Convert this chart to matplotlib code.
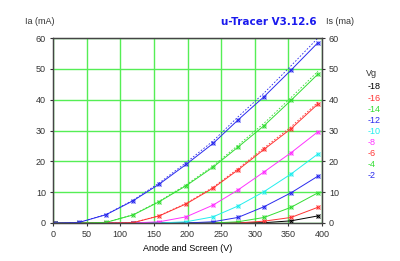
import matplotlib
matplotlib.use('Agg')
from matplotlib import pyplot as plt

# anode/screen voltage of the sweep points
va = [3, 39, 79, 119, 158, 198, 238, 275, 314, 354, 394]

# Ia (mA) per grid voltage
vg_labels = ['-18', '-16', '-14', '-12', '-10', '-8', '-6', '-4', '-2']
ia_m18 = [0, 0, 0, 0, 0, 0, 0, 0, 0.1, 0.7, 2.3]
ia_m16 = [0, 0, 0, 0, 0, 0, 0, 0, 0.6, 1.8, 5.1]
ia_m14 = [0, 0, 0, 0, 0, 0, 0, 0.4, 1.8, 5.1, 9.8]
ia_m12 = [0, 0, 0, 0, 0, 0, 0.4, 1.8, 5.3, 9.8, 15.2]
ia_m10 = [0, 0, 0, 0, 0, 0.4, 2.0, 5.5, 10.2, 15.9, 22.4]
ia_m8 = [0, 0, 0, 0, 0.4, 2.0, 5.8, 10.7, 16.6, 22.8, 29.6]
ia_m6 = [0, 0, 0, 0.1, 2.3, 6.2, 11.3, 17.2, 23.9, 30.6, 38.6]
ia_m4 = [0, 0, 0.2, 2.6, 6.9, 12.1, 18.1, 24.6, 31.6, 39.8, 48.3]
ia_m2 = [0, 0.2, 2.7, 7.2, 12.6, 19.0, 25.8, 33.4, 41.0, 49.6, 58.5]

# Is (mA), dashed, only visible on the top curves
is_m6 = [0, 0, 0, 0.1, 2.4, 6.4, 11.6, 17.6, 24.4, 31.2, 39.2]
is_m4 = [0, 0, 0.2, 2.7, 7.1, 12.4, 18.5, 25.2, 32.4, 40.7, 49.2]
is_m2 = [0, 0.2, 2.8, 7.4, 13.0, 19.6, 26.6, 34.4, 42.2, 51.0, 60.0]

ia_all = [ia_m18, ia_m16, ia_m14, ia_m12, ia_m10, ia_m8, ia_m6, ia_m4, ia_m2]
colors = ['#000000', '#ff3333', '#33dd33', '#2a2aee', '#22eeee',
          '#ff33ff', '#ff3333', '#33dd33', '#2a2aee']

plt.rcParams['font.family'] = ['Liberation Sans', 'DejaVu Sans']

fig = plt.figure(figsize=(4, 2.61), dpi=100)
ax = fig.add_axes([0.1325, 0.1456, 0.6725, 0.7088])

for ia, c in zip(ia_all, colors):
    ax.plot(va, ia, '-', color=c, lw=0.7, marker='x', ms=3, mew=0.7)
    ax.plot(va, ia, 'o', color=c, ms=2.2, mfc='none', mew=0.5)

for is_, c in zip([is_m6, is_m4, is_m2], [colors[6], colors[7], colors[8]]):
    ax.plot(va, is_, '--', color=c, lw=0.6, dashes=(2, 2))

ax.set_xlim(0, 400)
ax.set_ylim(0, 60)
ax.set_xticks(range(0, 401, 50))
ax.set_yticks(range(0, 61, 10))
ax.grid(True, color='#55ee55', lw=1.0)
ax.set_axisbelow(True)
ax.tick_params(labelsize=6.5, length=2, width=0.8, colors='#333333', pad=3)
for s in ax.spines.values():
    s.set_color('#444444')
    s.set_linewidth(0.9)
ax.set_xlabel('Anode and Screen (V)', fontsize=6.5, labelpad=4)

ax2 = ax.twinx()
ax2.set_ylim(0, 60)
ax2.set_yticks(range(0, 61, 10))
ax2.tick_params(labelsize=6.5, length=2, width=0.8, colors='#333333', pad=3)
for s in ax2.spines.values():
    s.set_color('#444444')
    s.set_linewidth(0.9)

fig.text(25 / 400, 1 - 22 / 261, 'Ia (mA)', fontsize=6.5, va='center', color='#333333')
fig.text(326 / 400, 1 - 22 / 261, 'Is (ma)', fontsize=6.5, va='center', color='#333333')
fig.text(269 / 400, 1 - 22 / 261, 'u-Tracer V3.12.6', fontsize=7.5, ha='center',
         va='center', color='#1a1aee', fontweight='bold', family='DejaVu Sans')

fig.text(366 / 400, 1 - 74 / 261, 'Vg', fontsize=6.5, va='center', color='#333333')
for i, (lab, c) in enumerate(zip(vg_labels, colors)):
    fig.text(368 / 400, 1 - (87 + i * 11.1) / 261, lab, fontsize=6.5,
             va='center', color=c)

fig.savefig('out.png', dpi=100)
